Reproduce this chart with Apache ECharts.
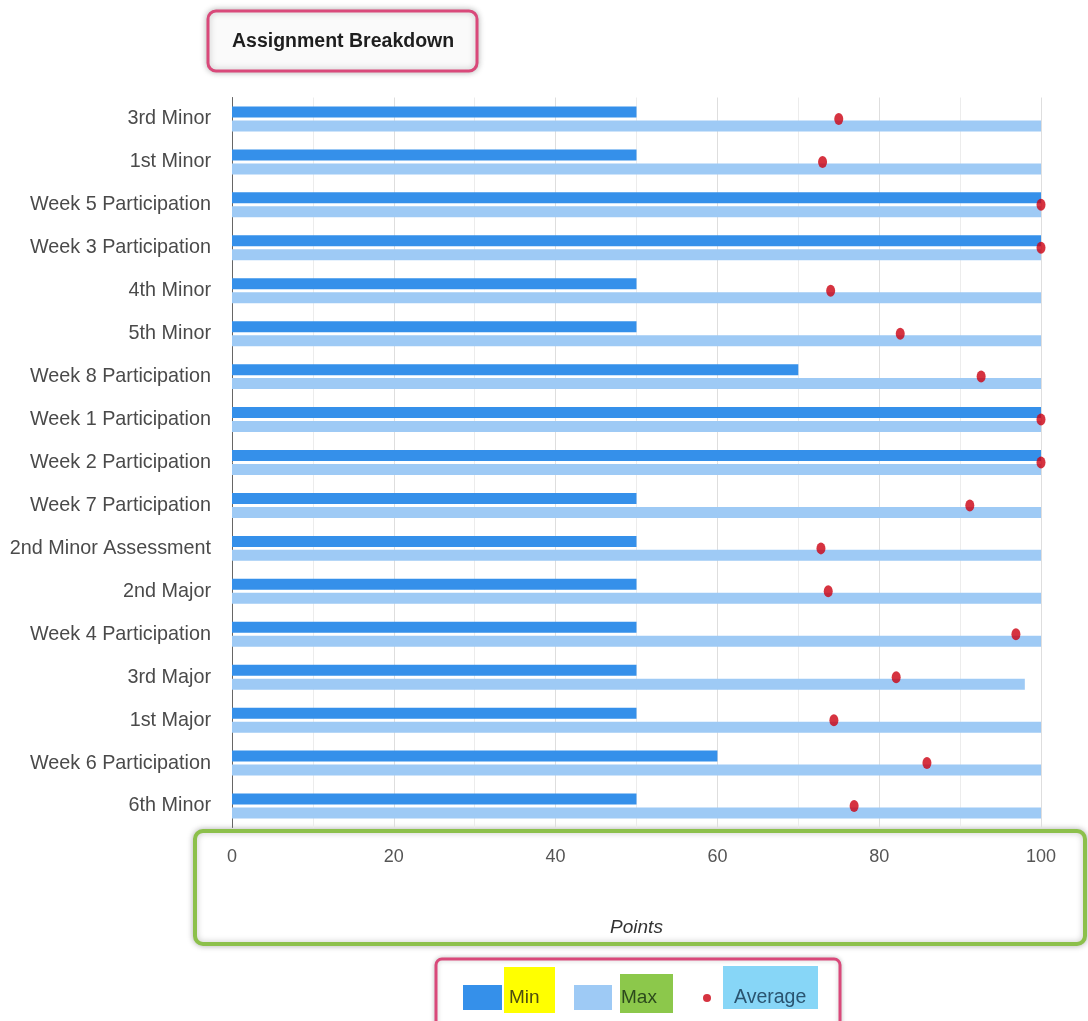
<!DOCTYPE html>
<html>
<head>
<meta charset="utf-8">
<title>Assignment Breakdown</title>
<script src="https://cdn.jsdelivr.net/npm/echarts@6/dist/echarts.min.js"></script>
<style>
  html, body { margin: 0; padding: 0; background: #ffffff; }
  #chart { width: 1088px; height: 1021px; }
</style>
</head>
<body>
<div id="chart"></div>
<script>
// Assignments, listed top to bottom
const assignments = [
  '3rd Minor', '1st Minor', 'Week 5 Participation', 'Week 3 Participation',
  '4th Minor', '5th Minor', 'Week 8 Participation', 'Week 1 Participation',
  'Week 2 Participation', 'Week 7 Participation', '2nd Minor Assessment',
  '2nd Major', 'Week 4 Participation', '3rd Major', '1st Major',
  'Week 6 Participation', '6th Minor'
];

// Lowest score per assignment
const minScores = [50, 50, 100, 100, 50, 50, 70, 100, 100, 50, 50, 50, 50, 50, 50, 60, 50];

// Highest score per assignment
const maxScores = [100, 100, 100, 100, 100, 100, 100, 100, 100, 100, 100, 100, 100, 98, 100, 100, 100];

// Class average per assignment
const avgScores = [75, 73, 100, 100, 74, 82.6, 92.6, 100, 100, 91.2, 72.8, 73.7, 96.9, 82.1, 74.4, 85.9, 76.9];

// Points axis ticks
const pointTicks = [0, 20, 40, 60, 80, 100];

const FONT = "'Liberation Sans', Arial, sans-serif";
const COLOR_MIN = '#3590ea';
const COLOR_MAX = '#9ecaf5';
const COLOR_AVG = '#cc0010';

const chart = echarts.init(document.getElementById('chart'), null, { renderer: 'canvas' });

const legendBase = {
  orient: 'horizontal',
  itemGap: 0,
  padding: 0,
  selectedMode: false
};

chart.setOption({
  backgroundColor: '#ffffff',
  animation: false,
  title: {
    text: 'Assignment Breakdown',
    left: 232,
    top: 32,
    padding: 0,
    textStyle: { fontFamily: FONT, fontSize: 19.5, fontWeight: 'bold', color: '#1e1e1e' }
  },
  graphic: [
    // frame round the title
    {
      type: 'rect', z: -1,
      shape: { x: 208, y: 11, width: 269, height: 60, r: 8 },
      style: { fill: '#fafafa', stroke: '#d9497a', lineWidth: 3, shadowBlur: 6, shadowColor: 'rgba(0,0,0,0.25)' }
    },
    // frame round the points axis
    {
      type: 'rect', z: -1,
      shape: { x: 195, y: 831, width: 890, height: 113, r: 8 },
      style: { fill: '#ffffff', stroke: '#8cc04b', lineWidth: 4, shadowBlur: 6, shadowColor: 'rgba(0,0,0,0.25)' }
    },
    // frame round the legend
    {
      type: 'rect', z: -1,
      shape: { x: 436, y: 959, width: 404, height: 80, r: 6 },
      style: { fill: '#ffffff', stroke: '#d9497a', lineWidth: 3, shadowBlur: 5, shadowColor: 'rgba(0,0,0,0.2)' }
    },
    // highlighted legend labels
    { type: 'rect', z: -1, shape: { x: 504, y: 967, width: 51, height: 46 }, style: { fill: '#ffff00' } },
    { type: 'rect', z: -1, shape: { x: 620, y: 974, width: 53, height: 39 }, style: { fill: '#8cc84b' } },
    { type: 'rect', z: -1, shape: { x: 723, y: 966, width: 95, height: 43 }, style: { fill: '#87d6f7' } }
  ],
  legend: [
    Object.assign({}, legendBase, {
      data: [{ name: 'Min', icon: 'rect' }], left: 463, top: 985, itemWidth: 39, itemHeight: 25,
      textStyle: { fontFamily: FONT, fontSize: 19, color: '#4d4d10', padding: [0, 0, 0, 2] }
    }),
    Object.assign({}, legendBase, {
      data: [{ name: 'Max', icon: 'rect' }], left: 574, top: 985, itemWidth: 38, itemHeight: 25,
      textStyle: { fontFamily: FONT, fontSize: 19, color: '#2c4a1c', padding: [0, 0, 0, 4] }
    }),
    Object.assign({}, legendBase, {
      data: [{ name: 'Average', icon: 'circle' }], left: 703, top: 988, itemWidth: 8, itemHeight: 12,
      textStyle: { fontFamily: FONT, fontSize: 19.5, color: '#2a5470', padding: [0, 0, 0, 18] }
    })
  ],
  grid: { left: 232, right: 47, top: 97.5, bottom: 193.5, containLabel: false },
  xAxis: {
    type: 'value',
    min: pointTicks[0],
    max: pointTicks[pointTicks.length - 1],
    interval: pointTicks[1] - pointTicks[0],
    name: 'Points',
    nameLocation: 'middle',
    nameGap: 91,
    nameTextStyle: { fontFamily: FONT, fontSize: 19, fontStyle: 'italic', color: '#333333' },
    axisLine: { show: false },
    axisTick: { show: false },
    axisLabel: { margin: 21, fontFamily: FONT, fontSize: 18, color: '#555555' },
    splitLine: { show: true, lineStyle: { color: '#dedede', width: 1 } },
    minorTick: { show: false, splitNumber: 2 },
    minorSplitLine: { show: true, lineStyle: { color: '#ececec', width: 1 } }
  },
  yAxis: {
    type: 'category',
    data: assignments,
    inverse: true,
    axisLine: { show: true, lineStyle: { color: '#666666', width: 1 } },
    axisTick: { show: false },
    axisLabel: { margin: 21, fontFamily: FONT, fontSize: 19.8, color: '#4a4a4a' },
    splitLine: { show: false }
  },
  series: [
    {
      name: 'Min',
      type: 'bar',
      data: minScores,
      barWidth: 11,
      barGap: '27%',
      itemStyle: { color: COLOR_MIN }
    },
    {
      name: 'Max',
      type: 'bar',
      data: maxScores,
      barWidth: 11,
      barGap: '27%',
      itemStyle: { color: COLOR_MAX }
    },
    {
      name: 'Average',
      type: 'scatter',
      data: avgScores,
      symbol: 'circle',
      symbolSize: [9, 12],
      itemStyle: { color: COLOR_AVG },
      z: 5
    }
  ]
});
</script>
</body>
</html>
